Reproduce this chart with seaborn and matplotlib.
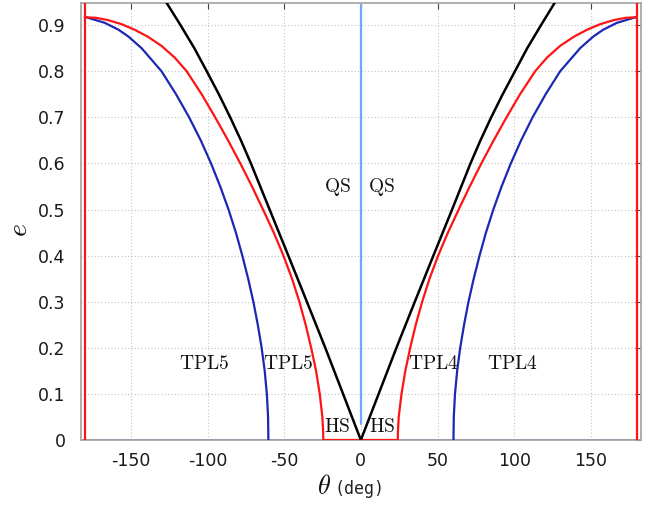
import numpy as np
import pandas as pd
import matplotlib
matplotlib.use("Agg")
import matplotlib.pyplot as plt
import seaborn as sns

# ---- data (theta in deg, e) ----
black_r_theta = [0, 11.6, 23.2, 35.2, 47.3, 59.5, 65.5, 71.5, 78.0, 85.0, 92.5, 100.5, 108.5, 117.5, 126.7, 130.0]
black_r_e     = [0, 0.10, 0.20, 0.30, 0.40, 0.50, 0.55, 0.60, 0.65, 0.70, 0.75, 0.80, 0.85, 0.90, 0.95, 0.965]
black_l_theta = [0, -11.6, -23.2, -35.2, -47.3, -59.5, -65.6, -71.7, -78.2, -85.2, -92.6, -100.5, -108.6, -117.6, -127.0, -130.0]
black_l_e     = [0, 0.10, 0.20, 0.30, 0.40, 0.50, 0.55, 0.60, 0.65, 0.70, 0.75, 0.80, 0.85, 0.90, 0.95, 0.965]

red_r_theta = [24.1, 24.2, 24.7, 26.5, 29.0, 32.2, 35.8, 40.0, 44.8, 50.4, 56.8, 63.8, 71.0, 78.6, 86.6, 95.0, 103.8, 113.7, 121.5, 130.0, 139.0, 147.5, 156.0, 165.0, 173.0, 180.0]
red_r_e     = [0.0, 0.02, 0.05, 0.10, 0.15, 0.20, 0.25, 0.30, 0.35, 0.40, 0.45, 0.50, 0.55, 0.60, 0.65, 0.70, 0.75, 0.80, 0.83, 0.855, 0.875, 0.89, 0.902, 0.911, 0.916, 0.917]
red_l_theta = [-24.5, -24.6, -25.1, -26.8, -29.2, -32.4, -36.0, -40.1, -44.9, -50.5, -56.8, -63.8, -71.0, -78.6, -86.6, -95.0, -103.8, -113.6, -121.5, -130.0, -139.0, -147.5, -156.0, -165.0, -173.0, -180.0]
red_l_e     = [0.0, 0.02, 0.05, 0.10, 0.15, 0.20, 0.25, 0.30, 0.35, 0.40, 0.45, 0.50, 0.55, 0.60, 0.65, 0.70, 0.75, 0.80, 0.83, 0.855, 0.875, 0.89, 0.902, 0.911, 0.916, 0.917]

blue_r_theta = [60.4, 60.6, 61.4, 62.8, 64.8, 67.3, 70.2, 73.6, 77.4, 81.6, 86.4, 91.8, 97.8, 104.5, 112.0, 120.5, 130.0, 143.0, 151.5, 158.0, 167.0, 180.0]
blue_r_e     = [0.0, 0.05, 0.10, 0.15, 0.20, 0.25, 0.30, 0.35, 0.40, 0.45, 0.50, 0.55, 0.60, 0.65, 0.70, 0.75, 0.80, 0.85, 0.875, 0.89, 0.905, 0.918]
blue_l_theta = [-60.3, -60.5, -61.3, -62.7, -64.7, -67.2, -70.1, -73.5, -77.3, -81.5, -86.3, -91.7, -97.7, -104.4, -112.0, -120.5, -130.0, -143.0, -151.5, -158.0, -167.0, -180.0]
blue_l_e     = [0.0, 0.05, 0.10, 0.15, 0.20, 0.25, 0.30, 0.35, 0.40, 0.45, 0.50, 0.55, 0.60, 0.65, 0.70, 0.75, 0.80, 0.85, 0.875, 0.89, 0.905, 0.918]

hs_theta = [-24.5, 24.1]          # red segment along e = 0
base_theta = [-182.5, 182.5]      # blue line along e = 0
boundary_theta = [-180, 180]      # red vertical lines

labels = ["TPL5", "TPL5", "TPL4", "TPL4", "HS", "HS", "QS", "QS"]
label_theta = [-102, -47.2, 47.4, 98.5, -15.2, 14.1, -15.2, 13.7]
label_e = [0.165, 0.165, 0.165, 0.165, 0.029, 0.029, 0.549, 0.549]

xticks = [-150, -100, -50, 0, 50, 100, 150]
yticks = [0, 0.1, 0.2, 0.3, 0.4, 0.5, 0.6, 0.7, 0.8, 0.9]

# ---- styling ----
sns.set_theme(style="white")
plt.rcParams["font.family"] = ["DejaVu Sans"]
plt.rcParams["mathtext.fontset"] = "cm"
plt.rcParams["axes.unicode_minus"] = False

RED = "#ff1414"
BLUE = "#1a28b4"
LBLUE = "#6fa8f5"

fig = plt.figure(figsize=(6.63, 5.05), dpi=100)
ax = fig.add_axes([81 / 663, 65 / 505, (640.7 - 81) / 663, (440 - 3) / 505])

ax.set_xlim(-182.5, 182.5)
ax.set_ylim(0, 0.948)
ax.set_xticks(xticks)
ax.set_yticks(yticks)
ax.set_xticklabels([str(t) for t in xticks])
ax.set_yticklabels(["0"] + [f"{t:.1f}" for t in yticks[1:]])
ax.grid(True, color="#c4c4c4", linestyle=(0, (1, 2)), linewidth=0.8)
ax.set_axisbelow(True)
ax.tick_params(axis="both", direction="in", length=4, width=0.8, color="#444444",
               top=True, right=True, labelsize=12.5, labelcolor="#1a1a1a")
ax.tick_params(axis="x", pad=9)
ax.tick_params(axis="y", pad=11)
for s in ax.spines.values():
    s.set_color("#a8a8a8")
    s.set_linewidth(1.3)

def draw(th, e, color, lw=1.6, z=3):
    df = pd.DataFrame({"theta": th, "e": e})
    sns.lineplot(data=df, x="theta", y="e", ax=ax, color=color, linewidth=lw,
                 sort=False, estimator=None, zorder=z, legend=False)

# baseline and vertical lines
draw(base_theta, [0, 0], BLUE, lw=2.0, z=2)
for bt in boundary_theta:
    draw([bt, bt], [0, 0.948], RED, lw=1.6, z=5)
draw([0, 0], [0.035, 0.948], LBLUE, lw=1.6, z=2)

# curves
draw(blue_r_theta, blue_r_e, BLUE)
draw(blue_l_theta, blue_l_e, BLUE)
draw(red_r_theta, red_r_e, RED)
draw(red_l_theta, red_l_e, RED)
draw(hs_theta, [0, 0], RED, lw=1.6, z=4)
draw(black_r_theta, black_r_e, "black", lw=1.8, z=4)
draw(black_l_theta, black_l_e, "black", lw=1.8, z=4)

ax.set_xlabel("")
ax.set_ylabel("")

for t, x, y in zip(labels, label_theta, label_e):
    ax.text(x, y, r"$\mathrm{" + t + "}$", ha="center", va="center",
            fontsize=14, color="#111111", zorder=6)

# axis labels
fig.text(19 / 663, 1 - 230 / 505, r"$e$", rotation=90, ha="center", va="center",
         fontsize=20, color="#111111")
fig.text(324 / 663, 1 - 487 / 505, r"$\theta$", ha="center", va="center",
         fontsize=19, color="#111111")
fig.text(334 / 663, 1 - 489 / 505, "(deg)", ha="left", va="center",
         fontsize=12, family="DejaVu Sans Mono", color="#222222")

fig.savefig("out.png", dpi=100)
